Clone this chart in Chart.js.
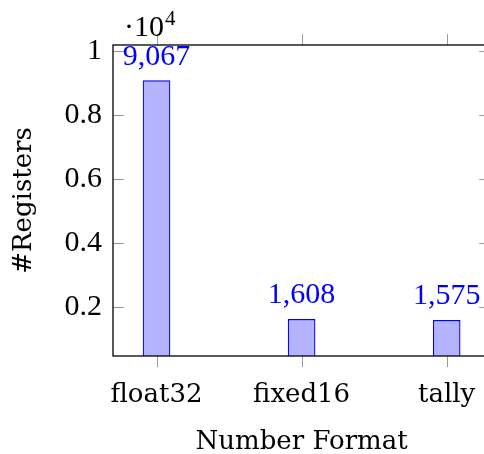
<!DOCTYPE html>
<html>
<head>
<meta charset="utf-8">
<script src="https://cdn.jsdelivr.net/npm/chart.js@4/dist/chart.umd.min.js"></script>
<style>
  html, body { margin: 0; padding: 0; background: #fff; overflow: hidden; }
  #wrap { width: 484px; height: 454px; overflow: hidden; }
</style>
</head>
<body>
<div id="wrap"><canvas id="chart" width="500" height="454"></canvas></div>
<script>
(function() {
  'use strict';
  // カテゴリ
  const formats = ['float32', 'fixed16', 'tally'];
  // レジスタ数
  const registers = [9067, 1608, 1575];
  // y 軸の目盛り
  const yTickValues = [2000, 4000, 6000, 8000, 10000];
  const yTickLabels = ['0.2', '0.4', '0.6', '0.8', '1'];
  const yScaleLabel = ['·10', '4'];

  const textFont = 'DejaVu Serif';
  const numFont = 'Liberation Serif';
  const tickGrey = '#9a9a9a';

  // 枠・目盛り・値ラベル
  const framePlugin = {
    id: 'frame',
    afterDatasetsDraw(chart) {
      const ctx = chart.ctx;
      const area = chart.chartArea;
      const xs = chart.scales.x;
      const ys = chart.scales.y;
      ctx.save();
      // 目盛り
      ctx.strokeStyle = tickGrey;
      ctx.lineWidth = 1;
      ctx.beginPath();
      yTickValues.forEach(function(v) {
        const py = Math.round(ys.getPixelForValue(v)) + 0.5;
        ctx.moveTo(area.left, py);
        ctx.lineTo(area.left + 11, py);
        ctx.moveTo(area.right, py);
        ctx.lineTo(area.right - 11, py);
      });
      formats.forEach(function(f, i) {
        const px = Math.round(xs.getPixelForValue(i)) + 0.5;
        ctx.moveTo(px, area.bottom);
        ctx.lineTo(px, area.bottom + 11);
        ctx.moveTo(px, area.top);
        ctx.lineTo(px, area.top - 11);
      });
      ctx.stroke();
      // 枠
      ctx.strokeStyle = '#000';
      ctx.lineWidth = 1.3;
      ctx.strokeRect(area.left, area.top, area.right - area.left, area.bottom - area.top);
      // 値ラベル
      ctx.fillStyle = '#0000ff';
      ctx.font = '30px "' + numFont + '"';
      ctx.textAlign = 'center';
      ctx.textBaseline = 'alphabetic';
      chart.getDatasetMeta(0).data.forEach(function(bar, i) {
        ctx.fillText(registers[i].toLocaleString('en-US'), bar.x, bar.y - 16);
      });
      // ·10^4
      ctx.fillStyle = '#000';
      ctx.textAlign = 'left';
      ctx.fillText(yScaleLabel[0], area.left + 11, 36);
      const w = ctx.measureText(yScaleLabel[0]).width;
      ctx.font = '21px "' + numFont + '"';
      ctx.fillText(yScaleLabel[1], area.left + 11 + w + 1, 25);
      ctx.restore();
    }
  };

  new Chart(document.getElementById('chart').getContext('2d'), {
    type: 'bar',
    data: {
      datasets: [{
        data: registers.map(function(v, i) { return {x: i, y: v}; }),
        backgroundColor: '#b3b3ff',
        borderColor: '#0000ff',
        borderWidth: 1.2,
        barThickness: 27,
      }],
    },
    options: {
      responsive: false,
      animation: false,
      devicePixelRatio: 1,
      layout: {
        padding: {top: 45, right: 6, left: 0, bottom: 0},
      },
      plugins: {
        legend: {display: false},
        tooltip: {enabled: false},
      },
      scales: {
        x: {
          type: 'linear',
          offset: false,
          min: -0.3,
          max: 2.3,
          afterBuildTicks: function(scale) {
            scale.ticks = formats.map(function(f, i) { return {value: i}; });
          },
          afterFit: function(scale) { scale.height = 98; },
          grid: {display: false, drawTicks: false, offset: false},
          border: {display: false},
          ticks: {
            autoSkip: false,
            maxRotation: 0,
            padding: 24,
            color: '#000',
            font: {family: textFont, size: 26},
            callback: function(v) { return formats[v]; },
          },
          title: {
            display: true,
            text: 'Number Format',
            color: '#000',
            font: {family: textFont, size: 26},
            padding: {top: 0, bottom: -4},
          },
        },
        y: {
          min: 460,
          max: 10180,
          afterBuildTicks: function(scale) {
            scale.ticks = yTickValues.map(function(v) { return {value: v}; });
          },
          afterFit: function(scale) { scale.width = 113; },
          grid: {display: false, drawTicks: false},
          border: {display: false},
          ticks: {
            padding: 11,
            color: '#000',
            font: {family: numFont, size: 30},
            callback: function(v) { return yTickLabels[yTickValues.indexOf(v)]; },
          },
          title: {
            display: true,
            text: '#Registers',
            color: '#000',
            font: {family: textFont, size: 26},
            padding: {top: 9, bottom: 0},
          },
        },
      },
    },
    plugins: [framePlugin],
  });
})();
</script>
</body>
</html>
